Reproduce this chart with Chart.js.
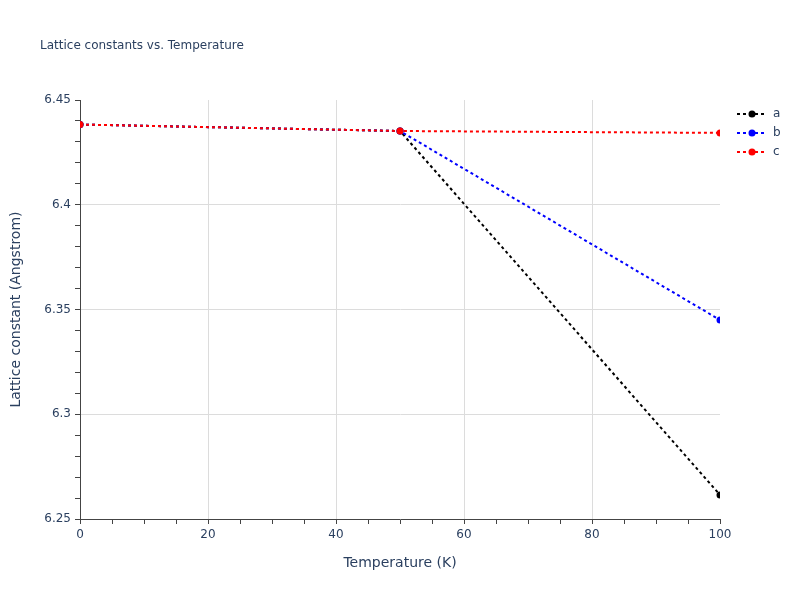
<!DOCTYPE html>
<html>
<head>
<meta charset="utf-8">
<script src="https://cdn.jsdelivr.net/npm/chart.js@4"></script>
<style>
  html, body { margin: 0; padding: 0; background: #fff; }
  #wrap { width: 800px; height: 600px; }
</style>
</head>
<body>
<div id="wrap"><canvas id="chart" width="800" height="600"></canvas></div>
<script>
// values
const temperatures = [0, 50, 100];
const latticeA = [6.4383, 6.4352, 6.2615];
const latticeB = [6.4383, 6.4352, 6.3450];
const latticeC = [6.4383, 6.4352, 6.4343];
const seriesNames = ['a', 'b', 'c'];
const seriesColors = ['#000000', '#0000ff', '#ff0000'];

const FONT = '"DejaVu Sans", verdana, sans-serif';
const TEXT = '#2a3f5f';
const GRID = '#dcdcdc';

function toPoints(vals) {
    return temperatures.map((t, i) => ({ x: t, y: vals[i] }));
}

function isStep(v, step) {
    const r = v / step;
    return Math.abs(r - Math.round(r)) < 1e-6;
}

const allSeries = [latticeA, latticeB, latticeC];

const datasets = allSeries.map((vals, i) => ({
    label: seriesNames[i],
    data: toPoints(vals),
    borderColor: seriesColors[i],
    backgroundColor: seriesColors[i],
    borderWidth: 2,
    borderDash: [3, 3],
    pointRadius: 3.5,
    pointBorderWidth: 0,
    showLine: true,
    tension: 0,
    order: 2 - i  // c on top
}));

// title + plotly-style legend
const decorations = {
    id: 'decorations',
    afterDraw(chart) {
        const ctx = chart.ctx;
        ctx.save();
        ctx.fillStyle = TEXT;
        ctx.font = '12px ' + FONT;
        ctx.textBaseline = 'middle';
        ctx.textAlign = 'left';
        ctx.fillText('Lattice constants vs. Temperature', 40, 46);

        seriesNames.forEach((name, i) => {
            const y = 114 + i * 19;
            ctx.strokeStyle = seriesColors[i];
            ctx.lineWidth = 2;
            ctx.setLineDash([3, 3]);
            ctx.beginPath();
            ctx.moveTo(737, y);
            ctx.lineTo(767, y);
            ctx.stroke();
            ctx.setLineDash([]);
            ctx.fillStyle = seriesColors[i];
            ctx.beginPath();
            ctx.arc(752, y, 3.5, 0, Math.PI * 2);
            ctx.fill();
            ctx.fillStyle = TEXT;
            ctx.fillText(name, 773, y);
        });
        ctx.restore();
    }
};

new Chart(document.getElementById('chart'), {
    type: 'scatter',
    data: { datasets },
    options: {
        responsive: false,
        animation: false,
        layout: { padding: { top: 100, right: 80, left: 0, bottom: 0 } },
        plugins: {
            legend: { display: false },
            tooltip: { enabled: false }
        },
        scales: {
            x: {
                type: 'linear',
                min: 0,
                max: 100,
                afterFit(scale) { scale.height = 81; },
                border: { color: '#444', width: 1 },
                grid: {
                    color: c => (c.tick && isStep(c.tick.value, 20) && c.tick.value > 0 && c.tick.value < 100) ? GRID : 'rgba(0,0,0,0)',
                    tickColor: '#444',
                    tickLength: 5
                },
                ticks: {
                    stepSize: 5,
                    autoSkip: false,
                    maxRotation: 0,
                    padding: 4,
                    color: TEXT,
                    font: { family: FONT, size: 12 },
                    callback: v => isStep(v, 20) ? String(Math.round(v)) : ''
                },
                title: {
                    display: true,
                    text: 'Temperature (K)',
                    color: TEXT,
                    font: { family: FONT, size: 14 },
                    padding: { top: 0, bottom: 28 }
                }
            },
            y: {
                min: 6.25,
                max: 6.45,
                afterFit(scale) { scale.width = 80; },
                border: { color: '#444', width: 1 },
                grid: {
                    color: c => (c.tick && isStep(c.tick.value - 6.25, 0.05) && c.tick.value > 6.251 && c.tick.value < 6.449) ? GRID : 'rgba(0,0,0,0)',
                    tickColor: '#444',
                    tickLength: 5
                },
                ticks: {
                    stepSize: 0.01,
                    autoSkip: false,
                    padding: 4,
                    color: TEXT,
                    font: { family: FONT, size: 12 },
                    callback: v => isStep(v - 6.25, 0.05) ? String(+v.toFixed(2)) : ''
                },
                title: {
                    display: true,
                    text: 'Lattice constant (Angstrom)',
                    color: TEXT,
                    font: { family: FONT, size: 14 },
                    padding: { top: 8, bottom: 0 }
                }
            }
        }
    },
    plugins: [decorations]
});
</script>
</body>
</html>
